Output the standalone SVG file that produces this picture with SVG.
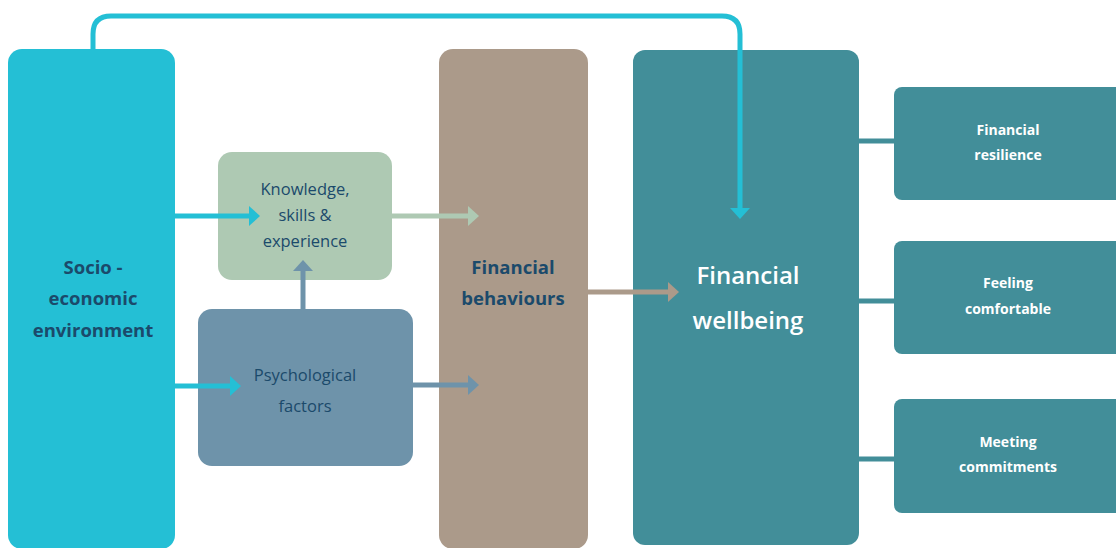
<svg xmlns="http://www.w3.org/2000/svg" width="1116" height="548" viewBox="0 0 1116 548">
<style>
.t{font-family:"Open Sans","Noto Sans","Liberation Sans",sans-serif;text-anchor:middle}
.dk{fill:#1B4A6B}
.wh{fill:#FFFFFF}
.b{font-weight:700}
.sb{font-weight:600}
.c{fill:none;stroke-width:5}
</style>
<defs>
<marker id="mCy" viewBox="0 0 11 20" markerWidth="11" markerHeight="20" markerUnits="userSpaceOnUse" refX="3" refY="10" orient="auto"><path d="M0,0 L11,10 L0,20 Z" fill="#24BFD5"/></marker>
<marker id="mGr" viewBox="0 0 11 20" markerWidth="11" markerHeight="20" markerUnits="userSpaceOnUse" refX="3" refY="10" orient="auto"><path d="M0,0 L11,10 L0,20 Z" fill="#AEC9B3"/></marker>
<marker id="mSl" viewBox="0 0 11 20" markerWidth="11" markerHeight="20" markerUnits="userSpaceOnUse" refX="3" refY="10" orient="auto"><path d="M0,0 L11,10 L0,20 Z" fill="#6E93AA"/></marker>
<marker id="mBr" viewBox="0 0 11 20" markerWidth="11" markerHeight="20" markerUnits="userSpaceOnUse" refX="3" refY="10" orient="auto"><path d="M0,0 L11,10 L0,20 Z" fill="#AB9A8A"/></marker>
</defs>
<rect width="1116" height="548" fill="#FFFFFF"/>
<g id="socio">
<rect x="8" y="49" width="167" height="500" rx="14" fill="#24BFD5"/>
<text class="t dk b" x="93" y="274" font-size="18.5">Socio -</text>
<text class="t dk b" x="93" y="305" font-size="18.5">economic</text>
<text class="t dk b" x="93" y="337" font-size="18.5">environment</text>
</g>
<g id="knowledge">
<rect x="218" y="152" width="174" height="128" rx="14" fill="#AEC9B3"/>
<text class="t dk" x="305" y="195" font-size="16.5">Knowledge,</text>
<text class="t dk" x="305" y="221" font-size="16.5">skills &amp;</text>
<text class="t dk" x="305" y="247" font-size="16.5">experience</text>
</g>
<g id="psychological">
<rect x="198" y="309" width="215" height="157" rx="14" fill="#6E93AA"/>
<text class="t dk" x="305" y="381" font-size="16.5">Psychological</text>
<text class="t dk" x="305" y="412" font-size="16.5">factors</text>
</g>
<g id="behaviours">
<rect x="439" y="49" width="149" height="500" rx="14" fill="#AB9A8A"/>
<text class="t dk b" x="513" y="274" font-size="18.5">Financial</text>
<text class="t dk b" x="513" y="305" font-size="18.5">behaviours</text>
</g>
<g id="wellbeing">
<rect x="633" y="50" width="226" height="495" rx="12" fill="#428E99"/>
<text class="t wh sb" x="748" y="284" font-size="24">Financial</text>
<text class="t wh sb" x="748" y="329" font-size="24">wellbeing</text>
</g>
<g id="resilience">
<rect x="894" y="87" width="232" height="113" rx="8" fill="#428E99"/>
<text class="t wh b" x="1008" y="135" font-size="14">Financial</text>
<text class="t wh b" x="1008" y="160" font-size="14">resilience</text>
</g>
<g id="comfortable">
<rect x="894" y="241" width="232" height="113" rx="8" fill="#428E99"/>
<text class="t wh b" x="1008" y="288" font-size="14">Feeling</text>
<text class="t wh b" x="1008" y="314" font-size="14">comfortable</text>
</g>
<g id="commitments">
<rect x="894" y="399" width="232" height="114" rx="8" fill="#428E99"/>
<text class="t wh b" x="1008" y="447" font-size="14">Meeting</text>
<text class="t wh b" x="1008" y="472" font-size="14">commitments</text>
</g>
<g id="connectors">
<path class="c" stroke="#24BFD5" d="M93,49 V34 Q93,16 111,16 H722 Q740,16 740,34 V211" marker-end="url(#mCy)"/>
<path class="c" stroke="#24BFD5" d="M175,216 H252" marker-end="url(#mCy)"/>
<path class="c" stroke="#24BFD5" d="M175,386 H233" marker-end="url(#mCy)"/>
<path class="c" stroke="#AEC9B3" d="M392,216 H471" marker-end="url(#mGr)"/>
<path class="c" stroke="#6E93AA" d="M413,385 H471" marker-end="url(#mSl)"/>
<path class="c" stroke="#6E93AA" d="M303,309 V268" marker-end="url(#mSl)"/>
<path class="c" stroke="#AB9A8A" d="M588,292 H671" marker-end="url(#mBr)"/>
<path class="c" stroke="#428E99" d="M859,141 H894"/>
<path class="c" stroke="#428E99" d="M859,301 H894"/>
<path class="c" stroke="#428E99" d="M859,459 H894"/>
</g>
</svg>
